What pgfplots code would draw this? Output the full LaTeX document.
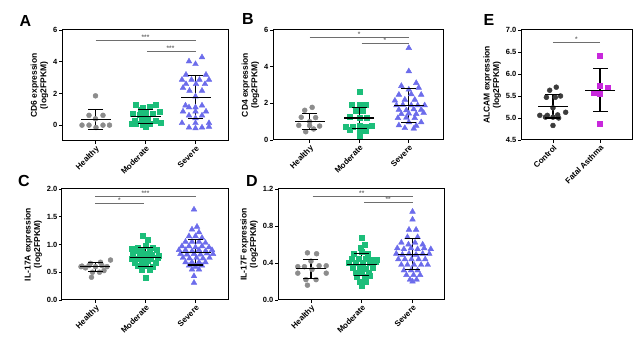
\documentclass[border=0pt]{standalone}
\usepackage{pgfplots}
\pgfplotsset{compat=1.18}
\usepackage{fontspec}
\setmainfont{Liberation Sans}
\definecolor{cgray}{RGB}{140,140,140}
\definecolor{cgreen}{RGB}{28,190,122}
\definecolor{cblue}{RGB}{108,108,235}
\definecolor{cmag}{RGB}{200,40,220}
\definecolor{cdark}{RGB}{60,60,60}
\definecolor{csig}{RGB}{110,110,110}
\pgfplotsset{
  panel/.style={scale only axis, clip=false,
    axis line style={line width=1pt, black},
    tick pos=left, tick align=outside, major tick length=3pt,
    tick style={line width=0.8pt, black},
    xtick={0,1,2},
    /pgf/number format/assume math mode=true,
    yticklabel style={font=\bfseries\fontsize{7.5}{8}\selectfont, inner sep=1.5pt},
    xticklabel style={font=\bfseries\fontsize{8}{9}\selectfont, rotate=45, anchor=north east, inner sep=1pt},
    ylabel style={font=\bfseries\fontsize{8.5}{9.5}\selectfont, align=center},
  },
  sd/.style={black, line width=1.1pt, mark=-, mark size=7.5pt, mark options={solid}},
  mn/.style={black, line width=1.1pt, only marks, mark=-, mark size=15pt},
  ptc/.style={only marks, mark=*, mark size=2.5pt, color=#1},
  pts/.style={only marks, mark=square*, mark size=2.5pt, color=#1},
  ptt/.style={only marks, mark=triangle*, mark size=3.3pt, color=#1},
  sig/.style={csig, line width=0.7pt, no marks},
}
\newcommand{\stars}[3]{\node[font=\bfseries\fontsize{6.5}{6.5}\selectfont, inner sep=0.5pt, anchor=south, csig] at (axis cs:#1,#2) {#3};}
\begin{document}
\begin{tikzpicture}
\useasboundingbox (0,0) rectangle (638pt,-363pt);
% Panel letters
\node[font=\bfseries\fontsize{16}{16}\selectfont] at (25.5pt,-21pt) {A};
\node[font=\bfseries\fontsize{16}{16}\selectfont] at (248pt,-18.5pt) {B};
\node[font=\bfseries\fontsize{16}{16}\selectfont] at (489pt,-19.5pt) {E};
\node[font=\bfseries\fontsize{16}{16}\selectfont] at (24pt,-181pt) {C};
\node[font=\bfseries\fontsize{16}{16}\selectfont] at (252pt,-181pt) {D};

% ---------------- A
\begin{axis}[panel, at={(62pt,-30pt)}, anchor=north west, width=166pt, height=111pt,
  xmin=-0.67, xmax=2.65, ymin=-1, ymax=6, ytick={0,2,4,6},
  xticklabels={Healthy,Moderate,Severe}, ylabel={CD6 expression\\(log2FPKM)}]
\addplot[ptc=cgray] coordinates {(0,1.85) (-0.13,0.62) (0.15,0.62) (0,0.4) (-0.27,0.0) (-0.13,0.0) (0.15,0.0) (0.28,0.0) (0.01,-0.15)};
\addplot[pts=cgreen] coordinates {(0.81,1.26) (0.95,1.13) (1.08,1.16) (1.21,1.31) (0.9,0.97) (0.75,0.72) (0.88,0.63) (1.01,0.80) (1.15,0.72) (1.28,0.85) (0.79,0.26) (0.92,0.35) (1.05,0.35) (1.2,0.26) (0.81,0.09) (0.95,0.0) (1.08,0.09) (1.0,0.55) (0.72,0.1) (1.3,0.15) (1.0,-0.08)};
\addplot[ptt=cblue] coordinates {(2.13,4.28) (1.87,4.02) (2.0,3.85) (1.81,3.18) (2.21,3.18) (1.73,2.86) (1.92,2.86) (2.08,2.86) (2.27,2.86) (1.81,2.59) (2.01,2.59) (2.19,2.59) (1.88,2.17) (2.13,2.17) (1.75,2.35) (2.0,1.81) (1.8,1.24) (2.13,1.24) (1.87,1.12) (2.0,1.12) (1.75,0.86) (2.0,0.86) (2.21,0.86) (1.87,0.61) (2.13,0.61) (2.0,0.44) (1.73,0.13) (2.0,0.13) (2.27,0.13) (1.87,-0.15) (2.0,-0.2) (2.13,-0.15) (2.27,-0.1)};
\addplot[sd] coordinates {(0,-0.3) (0,0.99)};
\addplot[mn] coordinates {(0,0.35)};
\addplot[sd] coordinates {(1,0.08) (1,0.97)};
\addplot[mn] coordinates {(1,0.52)};
\addplot[sd] coordinates {(2,0.44) (2,3.12)};
\addplot[mn] coordinates {(2,1.77)};
\addplot[sig] coordinates {(0,5.35) (2,5.35)};
\addplot[sig] coordinates {(1.03,4.65) (2,4.65)};
\stars{1}{5.35}{***}
\stars{1.5}{4.65}{***}
\end{axis}

% ---------------- B
\begin{axis}[panel, at={(273pt,-30pt)}, anchor=north west, width=170pt, height=110pt,
  xmin=-0.74, xmax=2.69, ymin=0, ymax=6, ytick={0,2,4,6},
  xticklabels={Healthy,Moderate,Severe}, ylabel={CD4 expression\\(log2FPKM)}]
\addplot[ptc=cgray] coordinates {(0.05,1.78) (-0.1,1.62) (-0.17,1.24) (0.12,1.22) (0.0,1.0) (-0.22,0.8) (0.0,0.78) (0.2,0.76) (0.08,0.6) (-0.08,0.45)};
\addplot[pts=cgreen] coordinates {(1.0,2.62) (0.85,1.95) (1.0,1.93) (1.14,1.95) (0.92,1.6) (1.07,1.6) (0.8,1.27) (1.0,1.22) (1.15,1.22) (0.73,0.74) (0.86,0.74) (1.0,0.78) (1.13,0.74) (1.25,0.78) (0.8,0.56) (1.0,0.56) (1.13,0.52) (1.0,0.26)};
\addplot[ptt=cblue] coordinates {(2.0,5.02) (2.0,3.75) (2.15,3.11) (1.85,2.95) (2.2,2.85) (2.0,2.75) (1.8,2.47) (2.05,2.5) (2.25,2.47) (1.92,2.2) (2.12,2.2) (1.72,2.15) (1.75,1.89) (1.88,1.92) (2.05,1.89) (2.18,1.89) (2.32,1.89) (1.8,1.65) (1.95,1.62) (2.1,1.68) (2.25,1.65) (1.85,1.42) (2.0,1.45) (2.15,1.42) (2.3,1.48) (1.78,1.2) (1.95,1.22) (2.12,1.2) (2.0,0.97) (2.25,0.97) (1.8,0.8) (2.15,0.78) (1.92,0.65) (2.1,0.62)};
\addplot[sd] coordinates {(0,0.56) (0,1.44)};
\addplot[mn] coordinates {(0,1.0)};
\addplot[sd] coordinates {(1,0.65) (1,1.78)};
\addplot[mn] coordinates {(1,1.2)};
\addplot[sd] coordinates {(2,0.96) (2,2.8)};
\addplot[mn] coordinates {(2,1.89)};
\addplot[sig] coordinates {(0,5.62) (2,5.62)};
\addplot[sig] coordinates {(1.05,5.26) (2,5.26)};
\stars{1}{5.62}{*}
\stars{1.52}{5.26}{*}
\end{axis}

% ---------------- E
\begin{axis}[panel, at={(521pt,-30pt)}, anchor=north west, width=111pt, height=110pt,
  xmin=-0.68, xmax=1.68, ymin=4.5, ymax=7.0, ytick={4.5,5.0,5.5,6.0,6.5,7.0}, xtick={0,1},
  yticklabel style={/pgf/number format/.cd, fixed, fixed zerofill, precision=1},
  xticklabels={Control,Fatal Asthma}, ylabel={ALCAM expression\\(log2FPKM)}]
\addplot[ptc=cdark] coordinates {(0.07,5.70) (-0.07,5.63) (-0.14,5.47) (0.05,5.47) (0.16,5.5) (0,5.23) (-0.28,5.06) (-0.12,5.06) (0.1,5.07) (0.27,5.13) (-0.16,5.02) (0,5.02) (0.12,5.0) (0,4.83)};
\addplot[pts=cmag] coordinates {(1,6.42) (1,5.74) (1.16,5.68) (0.87,5.58) (1.0,5.55) (1.0,4.87)};
\addplot[sd] coordinates {(0,5.0) (0,5.53)};
\addplot[mn] coordinates {(0,5.26)};
\addplot[sd] coordinates {(1,5.15) (1,6.12)};
\addplot[mn] coordinates {(1,5.63)};
\addplot[sig] coordinates {(0,6.73) (1,6.73)};
\stars{0.5}{6.73}{*}
\end{axis}

% ---------------- C
\begin{axis}[panel, at={(62pt,-189pt)}, anchor=north west, width=166pt, height=111pt,
  xmin=-0.67, xmax=2.65, ymin=0, ymax=2.0, ytick={0,0.5,1.0,1.5,2.0},
  yticklabel style={/pgf/number format/.cd, fixed, fixed zerofill, precision=1},
  xticklabels={Healthy,Moderate,Severe}, ylabel={IL-17A expression\\(log2FPKM)}]
\addplot[ptc=cgray] coordinates {(0.3,0.72) (0.1,0.68) (-0.1,0.66) (-0.27,0.61) (-0.13,0.62) (0.0,0.6) (0.23,0.6) (0.13,0.62) (-0.2,0.58) (0.08,0.5) (-0.06,0.5) (0.17,0.53) (-0.29,0.6) (-0.08,0.41)};
\addplot[pts=cgreen] coordinates {(0.95,1.15) (1.05,1.08) (0.85,0.95) (1.0,0.97) (1.15,0.95) (0.72,0.92) (0.8,0.88) (0.92,0.88) (1.08,0.9) (1.22,0.9) (0.75,0.82) (0.88,0.8) (1.0,0.83) (1.13,0.82) (1.27,0.8) (0.72,0.75) (0.85,0.75) (0.97,0.76) (1.1,0.74) (1.25,0.76) (0.78,0.68) (0.92,0.68) (1.05,0.7) (1.2,0.68) (0.85,0.62) (1.0,0.62) (1.15,0.6) (0.92,0.55) (1.08,0.55) (1.0,0.41)};
\addplot[ptt=cblue] coordinates {(1.97,1.63) (2.03,1.32) (1.93,1.27) (2.07,1.22) (1.87,1.15) (2.0,1.15) (2.13,1.12) (1.8,1.05) (1.93,1.05) (2.07,1.05) (2.2,1.03) (1.73,0.97) (1.87,0.97) (2.0,0.95) (2.13,0.97) (2.27,0.95) (1.67,0.9) (1.8,0.9) (1.93,0.88) (2.07,0.9) (2.2,0.88) (2.33,0.9) (1.7,0.83) (1.83,0.82) (1.97,0.83) (2.1,0.82) (2.23,0.84) (2.35,0.83) (1.75,0.76) (1.88,0.75) (2.02,0.76) (2.15,0.75) (2.28,0.76) (1.8,0.68) (1.93,0.68) (2.07,0.68) (2.2,0.68) (1.87,0.62) (2.0,0.6) (2.13,0.62) (1.93,0.55) (2.07,0.55) (1.97,0.43) (1.97,0.31)};
\addplot[sd] coordinates {(0,0.52) (0,0.67)};
\addplot[mn] coordinates {(0,0.6)};
\addplot[sd] coordinates {(1,0.6) (1,0.95)};
\addplot[mn] coordinates {(1,0.77)};
\addplot[sd] coordinates {(2,0.63) (2,1.09)};
\addplot[mn] coordinates {(2,0.86)};
\addplot[sig] coordinates {(0,1.87) (2,1.87)};
\addplot[sig] coordinates {(0,1.75) (0.97,1.75)};
\stars{1}{1.87}{***}
\stars{0.48}{1.75}{*}
\end{axis}

% ---------------- D
\begin{axis}[panel, at={(278pt,-189pt)}, anchor=north west, width=166pt, height=111pt,
  xmin=-0.65, xmax=2.62, ymin=0, ymax=1.2, ytick={0,0.4,0.8,1.2},
  yticklabel style={/pgf/number format/.cd, fixed, fixed zerofill, precision=1},
  xticklabels={Healthy,Moderate,Severe}, ylabel={IL-17F expression\\(log2FPKM)}]
\addplot[ptc=cgray] coordinates {(-0.07,0.51) (0.11,0.5) (-0.26,0.36) (-0.13,0.36) (0.16,0.37) (0.3,0.37) (0.02,0.33) (-0.26,0.29) (0.3,0.29) (-0.1,0.22) (0.1,0.22) (-0.07,0.16) (0.0,0.42)};
\addplot[pts=cgreen] coordinates {(1.0,0.67) (1.05,0.6) (0.98,0.57) (0.85,0.5) (1.0,0.52) (1.12,0.5) (0.8,0.45) (0.93,0.45) (1.07,0.45) (1.2,0.44) (1.3,0.44) (0.75,0.4) (0.88,0.4) (1.02,0.4) (1.15,0.4) (1.28,0.41) (0.82,0.35) (0.95,0.35) (1.08,0.34) (1.22,0.35) (0.88,0.3) (1.0,0.3) (1.13,0.3) (0.9,0.25) (1.05,0.25) (1.15,0.26) (0.95,0.2) (1.08,0.2) (1.0,0.15)};
\addplot[ptt=cblue] coordinates {(2.0,0.955) (2.0,0.87) (1.93,0.76) (2.07,0.76) (1.9,0.68) (2.1,0.68) (1.78,0.62) (1.92,0.6) (2.05,0.62) (2.2,0.6) (1.7,0.56) (1.83,0.55) (1.97,0.56) (2.1,0.55) (2.23,0.56) (2.36,0.55) (1.68,0.5) (1.8,0.49) (1.93,0.5) (2.07,0.49) (2.2,0.5) (2.33,0.5) (1.72,0.44) (1.85,0.44) (1.98,0.44) (2.12,0.44) (2.25,0.44) (1.78,0.38) (1.9,0.38) (2.03,0.38) (2.17,0.38) (2.3,0.38) (1.83,0.32) (1.97,0.32) (2.1,0.32) (1.88,0.27) (2.02,0.27) (2.15,0.27) (1.95,0.22) (2.08,0.22) (2.0,0.2)};
\addplot[sd] coordinates {(0,0.23) (0,0.44)};
\addplot[mn] coordinates {(0,0.34)};
\addplot[sd] coordinates {(1,0.26) (1,0.50)};
\addplot[mn] coordinates {(1,0.38)};
\addplot[sd] coordinates {(2,0.33) (2,0.66)};
\addplot[mn] coordinates {(2,0.49)};
\addplot[sig] coordinates {(0.03,1.12) (2,1.12)};
\addplot[sig] coordinates {(1.05,1.06) (2,1.06)};
\stars{1}{1.12}{**}
\stars{1.52}{1.06}{**}
\end{axis}
\end{tikzpicture}
\end{document}
